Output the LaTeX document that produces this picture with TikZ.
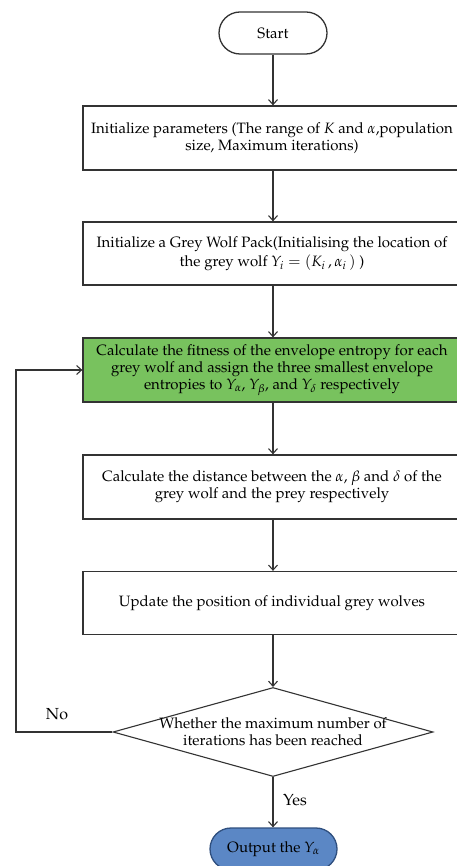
\documentclass[tikz,border=0pt]{standalone}
\usepackage[T1]{fontenc}
\usepackage{mathpazo}
\usetikzlibrary{shapes.geometric,arrows.meta}
\definecolor{linec}{HTML}{333333}
\definecolor{greenfill}{HTML}{78C25E}
\definecolor{bluefill}{HTML}{5B87C5}
\definecolor{blueline}{HTML}{2F4F7F}
\tikzset{
  x=1pt,y=-1pt,
  base/.style={font=\fontsize{15}{17}\selectfont, text=black, inner sep=0pt, align=center},
  procbox/.style={base, draw=linec, line width=1.3pt, minimum width=378pt, minimum height=64pt},
  terminal/.style={base, draw=linec, line width=1.3pt, rounded corners=21pt, minimum width=108pt, minimum height=42pt},
  decbox/.style={base, draw=linec, line width=1.1pt, shape=diamond, aspect=3.6, inner sep=-14pt, minimum width=320pt, minimum height=89pt},
  conn/.style={draw=linec, line width=1.1pt, -{Straight Barb[length=5pt,width=9pt]}},
  lbl/.style={font=\fontsize{16}{18}\selectfont, text=black, inner sep=0pt}
}
\begin{document}
\begin{tikzpicture}
\useasboundingbox (0,0) rectangle (456,866);
\fill[white] (0,0) rectangle (456,866);
\node[terminal] (start) at (273,33) {Start};
\node[procbox] (init) at (272,138) {Initialize parameters (The range of $K$ and $\alpha$,population\\size, Maximum iterations)};
\node[procbox, minimum height=63pt, font=\fontsize{15}{19}\selectfont] (pack) at (272,253.5) {Initialize a Grey Wolf Pack(Initialising the location of\\the grey wolf $Y_{i}=(K_{i}\,,\alpha_{i}\,)$\ )};
\node[procbox, fill=greenfill] (fit) at (272,370) {Calculate the fitness of the envelope entropy for each\\grey wolf and assign the three smallest envelope\\entropies to $Y_{\alpha}$, $Y_{\beta}$, and $Y_{\delta}$ respectively};
\node[procbox] (dist) at (272,487) {Calculate the distance between the $\alpha$, $\beta$ and $\delta$ of the\\grey wolf and the prey respectively};
\node[procbox, minimum height=63pt] (upd) at (272,603) {Update the position of individual grey wolves};
\node[decbox] (dec) at (273,732) {Whether the maximum number of\\iterations has been reached};
\node[terminal, fill=bluefill, draw=blueline, minimum width=127pt] (out) at (273.5,849) {Output the $Y_{\alpha}$};
\coordinate (loopcorner) at (16,732);
\node[lbl] (no) at (57,714) {No};
\node[lbl] (yes) at (295,800) {Yes};

\draw[conn] (start) -- (start |- init.north);
\draw[conn] (init.south -| start) -- (start |- pack.north);
\draw[conn] (pack.south -| start) -- (start |- fit.north);
\draw[conn] (fit.south -| start) -- (start |- dist.north);
\draw[conn] (dist.south -| start) -- (start |- upd.north);
\draw[conn] (upd.south -| dec) -- (dec.north);
\draw[conn] (dec.south) -- (out.north -| dec);
\draw[conn] (dec.west) -- (loopcorner) |- (fit.west);
\end{tikzpicture}
\end{document}
